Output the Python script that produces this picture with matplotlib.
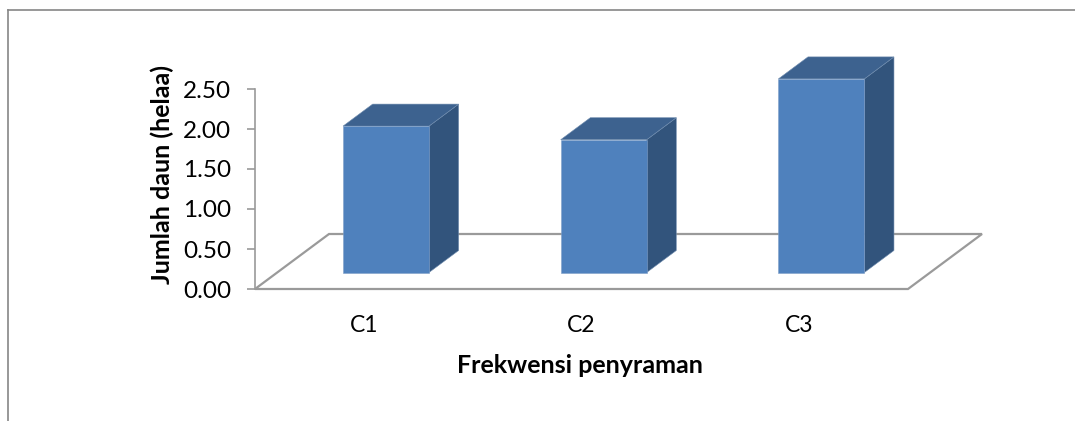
import matplotlib
matplotlib.use('Agg')
from matplotlib import pyplot as plt
from matplotlib.lines import Line2D
from matplotlib.patches import Polygon

categories = ['C1', 'C2', 'C3']
jumlah_daun = [1.83, 1.66, 2.42]
y_ticks = [0.0, 0.5, 1.0, 1.5, 2.0, 2.5]

W, H = 1075, 421
GREY = '#9a9a9a'

plt.rcParams['font.family'] = ['Lato', 'DejaVu Sans']

fig = plt.figure(figsize=(W / 100, H / 100), dpi=100)
# plot area in pixels of the picture
ax = fig.add_axes([255 / W, 1 - 289 / H, 653 / W, 200 / H])
ax.set_xlim(0, len(categories))
ax.set_ylim(0, 2.5)

# full depth of the 3d floor, in data units
depth_x = 74 / (653 / 3)
depth_y = 55 / 80


def skew(x, y, d):
    # oblique projection: d=0 front of the floor, d=1 back of it
    return (x + d * depth_x, y + d * depth_y)


# floor
floor = [skew(0, 0, 0), skew(3, 0, 0), skew(3, 0, 1), skew(0, 0, 1)]
ax.add_patch(Polygon(floor, closed=True, fc='white', ec=GREY, lw=1.6, clip_on=False, zorder=1))

# bars
bar_w = 0.395
d1, d2 = 0.3, 0.7
for i, v in enumerate(jumlah_daun):
    x1 = i + 0.5 - bar_w / 2
    x2 = i + 0.5 + bar_w / 2
    front = [skew(x1, 0, d1), skew(x2, 0, d1), skew(x2, v, d1), skew(x1, v, d1)]
    top = [skew(x1, v, d1), skew(x2, v, d1), skew(x2, v, d2), skew(x1, v, d2)]
    side = [skew(x2, 0, d1), skew(x2, 0, d2), skew(x2, v, d2), skew(x2, v, d1)]
    ax.add_patch(Polygon(side, closed=True, fc='#32547c', ec='#6f8cae', lw=0.4, clip_on=False, zorder=2))
    ax.add_patch(Polygon(top, closed=True, fc='#3d628f', ec='#6f8cae', lw=0.4, clip_on=False, zorder=2))
    ax.add_patch(Polygon(front, closed=True, fc='#4f81bd', ec='#7f9fc8', lw=0.4, clip_on=False, zorder=3))

# axes
for s in ['top', 'right', 'bottom']:
    ax.spines[s].set_visible(False)
ax.spines['left'].set_color(GREY)
ax.spines['left'].set_linewidth(1.2)
ax.patch.set_alpha(0)

ax.set_yticks(y_ticks)
ax.set_yticklabels(['%.2f' % t for t in y_ticks], fontsize=17.5, color='black')
ax.tick_params(axis='y', length=6, width=1.2, color=GREY, pad=11)

ax.set_xticks([i + 0.5 for i in range(len(categories))])
ax.set_xticklabels(categories, fontsize=16.5, color='black')
ax.tick_params(axis='x', length=0, pad=19)

ax.set_xlabel('Frekwensi penyraman', fontsize=18, fontweight='bold', color='black', labelpad=13)
ax.xaxis.set_label_coords((580 - 255) / 653, (289 - 354) / 200)
ax.set_ylabel('Jumlah daun (helaa)', fontsize=18, fontweight='bold', color='black')
ax.yaxis.set_label_coords((174 - 255) / 653, (289 - 174) / 200)

# chart frame
fig.add_artist(Line2D([8 / W, 1], [1 - 10 / H, 1 - 10 / H], color='#868686', lw=1.2))
fig.add_artist(Line2D([8 / W, 8 / W], [0, 1 - 10 / H], color='#868686', lw=1.2))

fig.savefig('out.png', dpi=100)
